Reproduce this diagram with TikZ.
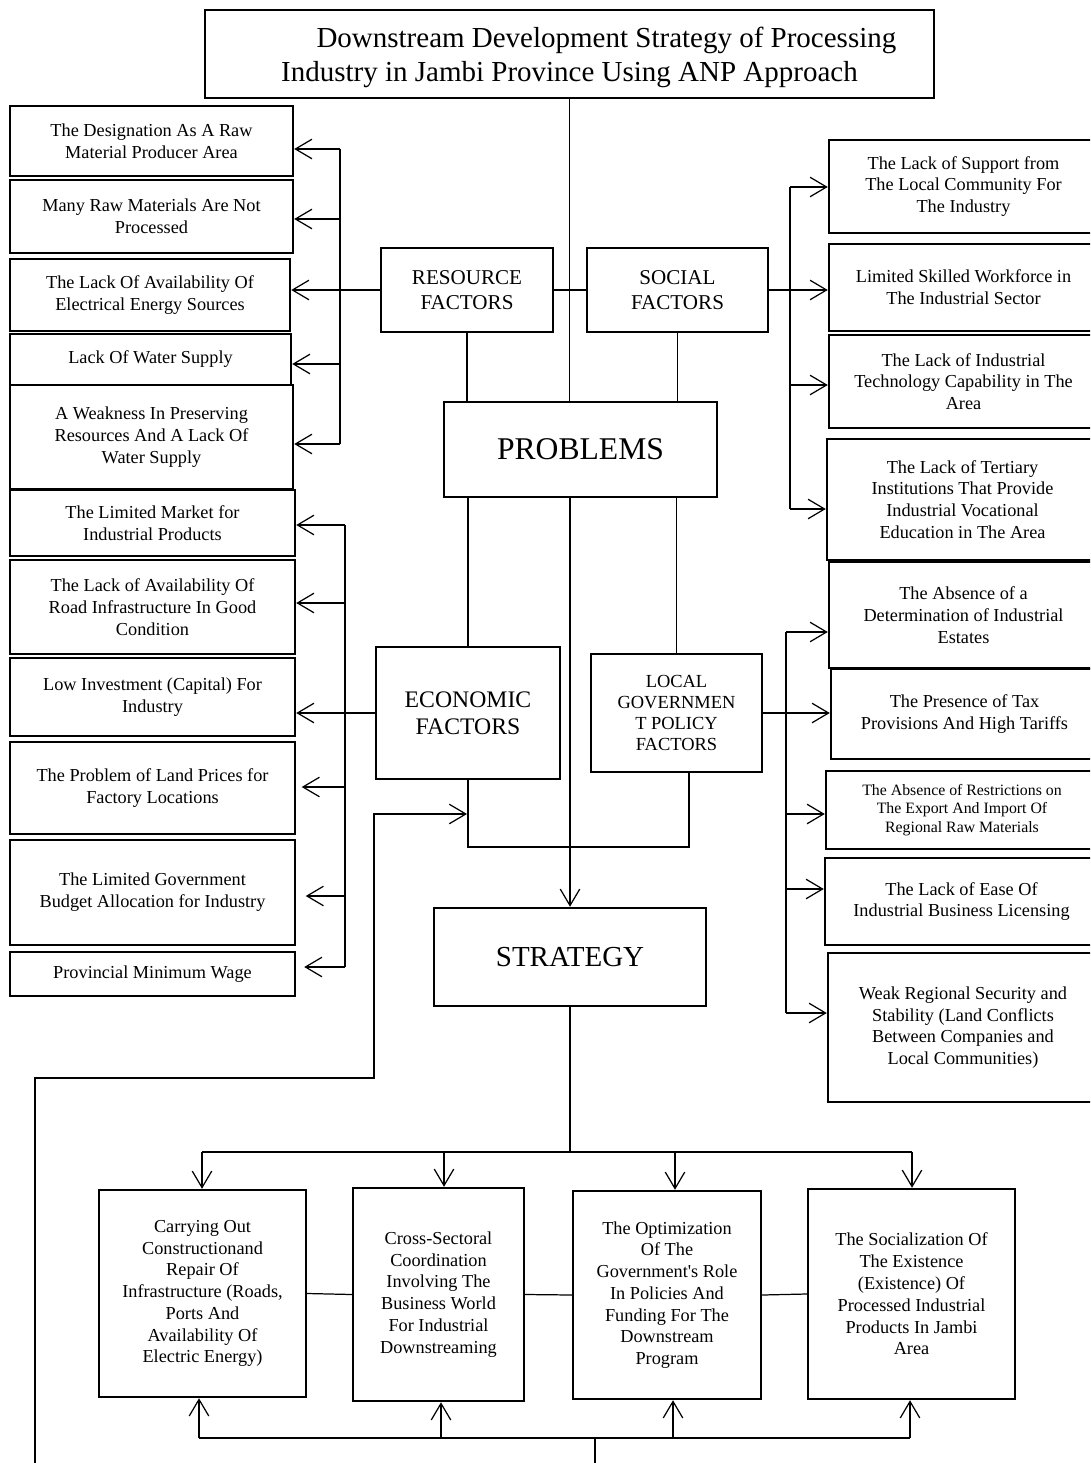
\documentclass[tikz,border=0pt]{standalone}
\usepackage{fontspec}
\setmainfont{Liberation Serif}
\usetikzlibrary{arrows.meta}
\newcommand\fsz[2]{\fontsize{#1pt}{#2pt}\selectfont}
% #1 style, #2 name, #3 x1, #4 y1, #5 x2, #6 y2, #7 text
\newcommand\mkbox[7]{\node[#1,minimum width={(#5-#3)*0.2mm},minimum height={(#6-#4)*0.2mm}] (#2) at ({(#3+#5)/2},{(#4+#6)/2}) {#7};}
\begin{document}
\begin{tikzpicture}[x=0.2mm,y=-0.2mm,line width=0.7pt,
  box/.style={draw,line width=1.4pt,align=center,inner sep=1pt,font=\fsz{10.4}{12.4}},
  smallbox/.style={box,font=\fsz{9}{10.4}},
  factor/.style={box,font=\fsz{12}{14}},
  ecofactor/.style={box,font=\fsz{13.5}{15.3}},
  locfactor/.style={box,font=\fsz{10.5}{11.9}},
  titlebox/.style={box,font=\fsz{16.5}{19.3}},
  bigbox/.style={box,font=\fsz{18}{20}},
  stratbox/.style={box,font=\fsz{16.5}{19}},
  arr/.style={-{Straight Barb[length=3.3mm,width=3.9mm]}}]
\useasboundingbox (0,0) rectangle (1090,1463);
\clip (0,0) rectangle (1090,1463);

% ---------- main boxes ----------
\mkbox{titlebox}{title}{205}{10}{934}{98}{\rule{0pt}{16pt}\hspace*{42pt}Downstream Development Strategy of Processing\\Industry in Jambi Province Using ANP Approach}
\mkbox{factor}{res}{381}{248}{553}{332}{RESOURCE\\FACTORS}
\mkbox{factor}{soc}{587}{248}{768}{332}{SOCIAL\\FACTORS}
\mkbox{bigbox}{prob}{444}{402}{717}{497}{PROBLEMS}
\mkbox{ecofactor}{eco}{376}{647}{560}{779}{ECONOMIC\\FACTORS}
\mkbox{locfactor}{loc}{591}{654}{762}{772}{LOCAL\\GOVERNMEN\\T POLICY\\FACTORS}
\mkbox{stratbox}{strat}{434}{908}{706}{1006}{STRATEGY}

% ---------- resource problems ----------
\mkbox{box}{l1}{10}{106}{293}{176}{The Designation As A Raw\\Material Producer Area}
\mkbox{box}{l2}{10}{180}{293}{253}{Many Raw Materials Are Not\\Processed}
\mkbox{box}{l3}{10}{259}{290}{331}{The Lack Of Availability Of\\Electrical Energy Sources}
\mkbox{box}{l4}{10}{334}{291}{385}{Lack Of Water Supply}
\mkbox{box}{l5}{10}{385}{293}{489}{A Weakness In Preserving\\Resources And A Lack Of\\Water Supply}

% ---------- economic problems ----------
\mkbox{box}{e1}{10}{490}{295}{556}{The Limited Market for\\Industrial Products}
\mkbox{box}{e2}{10}{560}{295}{654}{The Lack of Availability Of\\Road Infrastructure In Good\\Condition}
\mkbox{box}{e3}{10}{658}{295}{736}{Low Investment (Capital) For\\Industry}
\mkbox{box}{e4}{10}{742}{295}{834}{The Problem of Land Prices for\\Factory Locations}
\mkbox{box}{e5}{10}{840}{295}{945}{The Limited Government\\Budget Allocation for Industry}
\mkbox{box}{e6}{10}{952}{295}{996}{Provincial Minimum Wage}

% ---------- social problems ----------
\mkbox{box}{r1}{829}{140}{1098}{233}{The Lack of Support from\\The Local Community For\\The Industry}
\mkbox{box}{r2}{829}{244}{1098}{331}{Limited Skilled Workforce in\\The Industrial Sector}
\mkbox{box}{r3}{829}{335}{1098}{428}{The Lack of Industrial\\Technology Capability in The\\Area}
\mkbox{box}{r4}{827}{439}{1098}{560}{The Lack of Tertiary\\Institutions That Provide\\Industrial Vocational\\Education in The Area}

% ---------- policy problems ----------
\mkbox{box}{r5}{829}{562}{1098}{668}{The Absence of a\\Determination of Industrial\\Estates}
\mkbox{box}{r6}{831}{669}{1098}{759}{The Presence of Tax\\Provisions And High Tariffs}
\mkbox{smallbox}{r7}{826}{771}{1098}{849}{The Absence of Restrictions on\\The Export And Import Of\\Regional Raw Materials}
\mkbox{box}{r8}{825}{858}{1098}{945}{The Lack of Ease Of\\Industrial Business Licensing}
\mkbox{box}{r9}{828}{953}{1098}{1102}{Weak Regional Security and\\Stability (Land Conflicts\\Between Companies and\\Local Communities)}

% ---------- strategies ----------
\mkbox{box}{b1}{99}{1190}{306}{1397}{Carrying Out\\Constructionand\\Repair Of\\Infrastructure (Roads,\\Ports And\\Availability Of\\Electric Energy)}
\mkbox{box}{b2}{353}{1188}{524}{1401}{Cross-Sectoral\\Coordination\\Involving The\\Business World\\For Industrial\\Downstreaming}
\mkbox{box}{b3}{573}{1191}{761}{1399}{The Optimization\\Of The\\Government\textquotesingle s Role\\In Policies And\\Funding For The\\Downstream\\Program}
\mkbox{box}{b4}{808}{1189}{1015}{1399}{The Socialization Of\\The Existence\\(Existence) Of\\Processed Industrial\\Products In Jambi\\Area}

% ---------- centre connectors ----------
\draw (title.south) -- (title.south |- prob.north);
\draw (res.south) -- (res.south |- prob.north);
\draw (soc.south) -- (soc.south |- prob.north);
\draw (eco.north) -- (eco.north |- prob.south);
\draw (loc.north) -- (loc.north |- prob.south);
\draw[arr] (prob.south -| strat.north) -- (strat.north);
\draw (res.east) -- (soc.west);

% ---------- resource branch ----------
\coordinate (rb1) at (340,149);
\coordinate (rb2) at (340,219);
\coordinate (rb4) at (340,364);
\coordinate (rb5) at (340,444);
\draw (rb1) -- (rb5);
\draw[arr] (rb1) -- (rb1 -| l1.east);
\draw[arr] (rb2) -- (rb2 -| l2.east);
\draw[arr] (res.west) -- (res.west -| l3.east);
\draw[arr] (rb4) -- (rb4 -| l4.east);
\draw[arr] (rb5) -- (rb5 -| l5.east);

% ---------- social branch ----------
\coordinate (sb1) at (790,187);
\coordinate (sb3) at (790,385);
\coordinate (sb4) at (790,509);
\draw (sb1) -- (sb4);
\draw[arr] (sb1) -- (sb1 -| r1.west);
\draw[arr] (soc.east) -- (soc.east -| r2.west);
\draw[arr] (sb3) -- (sb3 -| r3.west);
\draw[arr] (sb4) -- (sb4 -| r4.west);

% ---------- economic branch ----------
\coordinate (eb1) at (345,525);
\coordinate (eb2) at (345,603);
\coordinate (eb4) at (345,787);
\coordinate (eb5) at (345,896);
\coordinate (eb6) at (345,967);
\draw (eb1) -- (eb6);
\draw[arr] (eb1) -- (eb1 -| e1.east);
\draw[arr] (eb2) -- (eb2 -| e2.east);
\draw[arr] (eco.west) -- (eco.west -| e3.east);
\draw[arr,shorten >=1.1mm] (eb4) -- (eb4 -| e4.east);
\draw[arr,shorten >=1.9mm] (eb5) -- (eb5 -| e5.east);
\draw[arr,shorten >=1.6mm] (eb6) -- (eb6 -| e6.east);

% ---------- policy branch ----------
\coordinate (lb5) at (786,632);
\coordinate (lb7) at (786,814);
\coordinate (lb8) at (786,889);
\coordinate (lb9) at (786,1013);
\draw (lb5) -- (lb9);
\draw[arr] (lb5) -- (lb5 -| r5.west);
\draw[arr] (loc.east) -- (loc.east -| r6.west);
\draw[arr] (lb7) -- (lb7 -| r7.west);
\draw[arr] (lb8) -- (lb8 -| r8.west);
\draw[arr] (lb9) -- (lb9 -| r9.west);

% ---------- economic / policy join and feedback ----------
\coordinate (jr) at (689,847);
\draw (eco.south) |- (jr) -- (jr |- loc.south);
\coordinate (fb0) at (35,1463);
\coordinate (fb1) at (374,1078);
\coordinate (fbt) at (467,814);
\draw[arr] (fb0) |- (fb1) |- (fbt);

% ---------- strategy branch ----------
\coordinate (s1) at (202,1152);
\coordinate (s2) at (444,1152);
\coordinate (s3) at (675,1152);
\coordinate (s4) at (912,1152);
\draw (strat.south) -- (strat.south |- s1);
\draw (s1) -- (s4);
\draw[arr] (s1) -- (s1 |- b1.north);
\draw[arr] (s2) -- (s2 |- b2.north);
\draw[arr] (s3) -- (s3 |- b3.north);
\draw[arr] (s4) -- (s4 |- b4.north);
\draw (b1.east) -- (b2.west);
\draw (b2.east) -- (b3.west);
\draw (b3.east) -- (b4.west);

\coordinate (u1) at (199,1438);
\coordinate (u2) at (441,1438);
\coordinate (u3) at (673,1438);
\coordinate (u4) at (910,1438);
\coordinate (ud) at (595,1463);
\draw (u1) -- (u4);
\draw (ud) -- (ud |- u1);
\draw[arr] (u1) -- (u1 |- b1.south);
\draw[arr] (u2) -- (u2 |- b2.south);
\draw[arr] (u3) -- (u3 |- b3.south);
\draw[arr] (u4) -- (u4 |- b4.south);
\end{tikzpicture}
\end{document}
